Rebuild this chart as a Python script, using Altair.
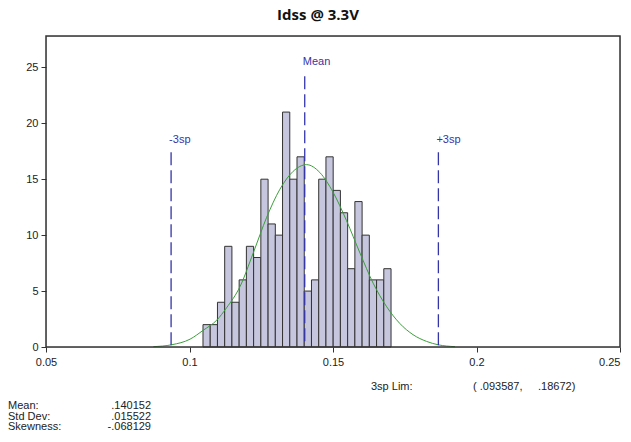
import altair as alt
import pandas as pd

# ---- data ----
counts = [2, 2, 4, 9, 4, 6, 9, 8, 15, 11, 10, 21, 15, 17, 5, 6, 15, 17, 14, 12, 7, 13, 10, 6, 6, 7]
bin_start = 0.1047
bin_width = 0.00252

curve_x = [0.0874, 0.0938, 0.1002, 0.1048, 0.1095, 0.1129, 0.1176, 0.1222, 0.1269, 0.1315,
           0.1361, 0.1408, 0.1454, 0.1501, 0.1547, 0.1594, 0.1640, 0.1687, 0.1733, 0.1779,
           0.1826, 0.1866, 0.1925]
curve_y = [0.03, 0.2, 0.7, 1.5, 2.4, 3.5, 5.4, 8.4, 11.6, 14.1,
           15.7, 16.3, 15.6, 13.8, 11.3, 8.4, 5.7, 3.6, 2.1, 1.1,
           0.5, 0.2, 0.03]

ref_names = ["-3sp", "Mean", "+3sp"]
ref_x = [0.093587, 0.140152, 0.18672]
ref_top = [17.4, 24.2, 17.4]
ref_label_y = [18.5, 25.5, 18.5]

stat_labels = ["Mean:", "Std Dev:", "Skewness:"]
stat_values = [".140152", ".015522", "-.068129"]
lim_label = "3sp Lim:"
lim_low = "( .093587,"
lim_high = ".18672)"
title_text = "Idss @ 3.3V"

x_ticks = [0.05, 0.1, 0.15, 0.2, 0.25]
y_ticks = [0, 5, 10, 15, 20, 25]

# ---- tables ----
bars = pd.DataFrame({
    "x0": [bin_start + i * bin_width for i in range(len(counts))],
    "x1": [bin_start + (i + 1) * bin_width for i in range(len(counts))],
    "count": counts,
})
curve = pd.DataFrame({"x": curve_x, "y": curve_y})
refs = pd.DataFrame({"name": ref_names, "x": ref_x, "top": ref_top, "ly": ref_label_y})

W, H = 574, 311
xscale = alt.Scale(domain=[0.05, 0.25], nice=False, zero=False)
yscale = alt.Scale(domain=[0, 27.8], nice=False)

lab_font = "Liberation Sans"

x_axis = alt.Axis(values=x_ticks, format="~g", title=None, grid=False, domain=False,
                  tickSize=5, tickColor="#333", labelPadding=4, labelFont=lab_font,
                  labelFontSize=11, labelColor="#222", labelFlush=False,
                  labelAlign=alt.expr("datum.value > 0.24 ? 'right' : 'center'"))
y_axis = alt.Axis(values=y_ticks, title=None, grid=False, domain=False,
                  tickSize=5, tickColor="#333", labelPadding=3, labelFont=lab_font,
                  labelFontSize=11, labelColor="#222")

bar_layer = alt.Chart(bars).mark_rect(fill="#c6c6de", stroke="#333", strokeWidth=1).encode(
    x=alt.X("x0:Q", scale=xscale, axis=x_axis),
    x2="x1:Q",
    y=alt.Y("count:Q", scale=yscale, axis=y_axis),
    y2=alt.datum(0),
)

curve_layer = alt.Chart(curve).mark_line(color="#3aa03a", strokeWidth=1, interpolate="monotone").encode(
    x=alt.X("x:Q", scale=xscale),
    y=alt.Y("y:Q", scale=yscale),
)

rule_layer = alt.Chart(refs).mark_rule(color="#3535a8", strokeWidth=1.3, strokeDash=[13, 5]).encode(
    x=alt.X("x:Q", scale=xscale),
    y=alt.Y("top:Q", scale=yscale),
    y2=alt.datum(0),
)

ref_text = alt.Chart(refs).mark_text(align="left", baseline="middle", dx=-2, font=lab_font,
                                     fontSize=11, color="#3535a8").encode(
    x=alt.X("x:Q", scale=xscale),
    y=alt.Y("ly:Q", scale=yscale),
    text="name:N",
)

frame = alt.Chart(pd.DataFrame({"f": [0]})).mark_rect(
    fill=None, fillOpacity=0, stroke="#333", strokeWidth=1.5).encode(
    x=alt.value(0), x2=alt.value(W), y=alt.value(0), y2=alt.value(H))

title_layer = alt.Chart(pd.DataFrame({"t": [title_text]})).mark_text(
    align="center", baseline="alphabetic", font="Open Sans", fontWeight="bold",
    fontSize=15, color="#111").encode(
    x=alt.value(272), y=alt.value(-16), text="t:N")

stats = pd.DataFrame({"label": stat_labels, "value": stat_values, "py": [370, 380.5, 391]})
stat_lab = alt.Chart(stats).mark_text(align="left", baseline="middle", font=lab_font,
                                      fontSize=11, color="#222").encode(
    x=alt.value(-38), y=alt.Y("py:Q", scale=None), text="label:N")
stat_val = alt.Chart(stats).mark_text(align="right", baseline="middle", font=lab_font,
                                      fontSize=11, color="#222").encode(
    x=alt.value(105), y=alt.Y("py:Q", scale=None), text="value:N")

lim = pd.DataFrame({"t": [lim_label, lim_low, lim_high], "px": [325, 427, 492]})
lim_layer = alt.Chart(lim).mark_text(align="left", baseline="middle", font=lab_font,
                                     fontSize=11, color="#222").encode(
    x=alt.X("px:Q", scale=None), y=alt.value(351), text="t:N")

chart = alt.layer(
    bar_layer, curve_layer, rule_layer, ref_text, frame, title_layer, stat_lab, stat_val, lim_layer
).resolve_scale(x="shared", y="shared").properties(
    width=W, height=H,
    autosize=alt.AutoSizeParams(type="none"),
    padding={"left": 38, "top": 28, "right": 3, "bottom": 86},
).configure_view(stroke=None).configure(background="white")

chart.save("out.html", embed_options={"renderer": "svg", "actions": False})
